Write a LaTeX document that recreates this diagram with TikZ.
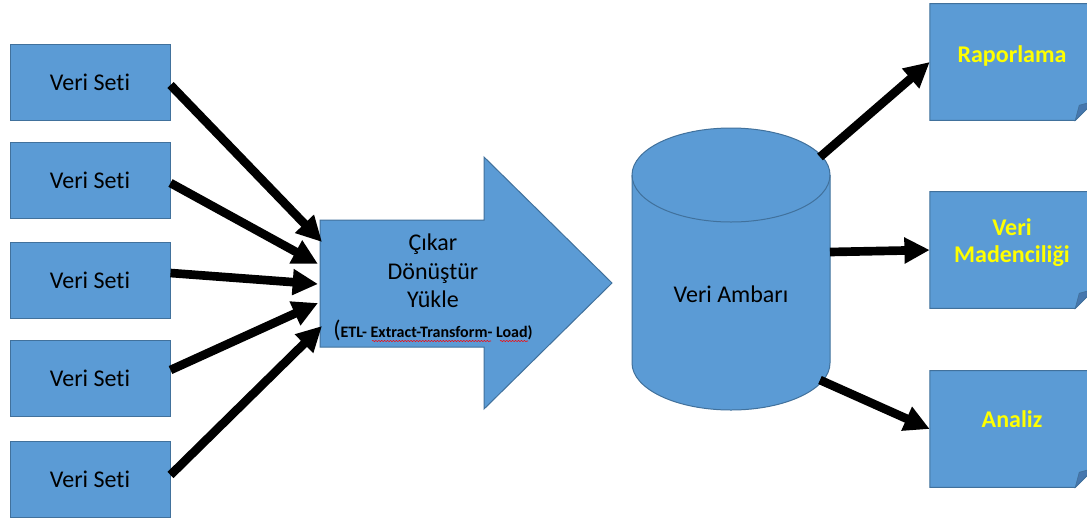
\documentclass[tikz,border=0pt]{standalone}
\usepackage{fontspec}
\setmainfont{Carlito}[Ligatures=NoCommon]
\usetikzlibrary{arrows.meta,calc,decorations.pathmorphing}
\definecolor{shapefill}{HTML}{5B9BD5}
\definecolor{shapeline}{HTML}{41719C}
\definecolor{foldshade}{HTML}{4677AE}
\definecolor{notetext}{HTML}{FFFF00}

\begin{document}
\begin{tikzpicture}[x={(0.75pt,0)}, y={(0,-0.75pt)},
  srcbox/.style={rectangle, fill=shapefill, draw=shapeline, line width=0.75pt,
    minimum width=120pt, minimum height=57pt, inner sep=0pt,
    font=\fontsize{18}{21}\selectfont},
  notebox/.style={rectangle, minimum width=123pt, minimum height=87pt, inner sep=0pt},
  notelabel/.style={anchor=base, text=notetext, font=\fontsize{18}{21}\selectfont\bfseries},
  plain/.style={anchor=base, font=\fontsize{18}{21}\selectfont},
  flow/.style={line width=6.5pt, -{Triangle[length=19pt,width=18.5pt]}},
  body/.style={fill=shapefill, draw=shapeline, line width=0.75pt, line join=miter},
  squiggle/.style={draw=red, line width=0.4pt, decorate,
    decoration={snake, amplitude=0.45pt, segment length=2.2pt}}
]
\useasboundingbox (0,0) rectangle (1087,522);
\fill[white] (0,0) rectangle (1087,522);
\clip (0,0) rectangle (1087,522);

% five source data sets
\foreach \i/\y in {1/82,2/180,3/280,4/378,5/479}
  \node[srcbox] (src\i) at (90,\y) {Veri Seti};

% ETL block arrow
\draw[body] (320,220) -- (484,220) -- (484,157) -- (612,283) -- (484,409)
  -- (484,347) -- (320,347) -- cycle;
\coordinate (in1) at (322,242);
\coordinate (in2) at (318,264);
\coordinate (in3) at (318,284);
\coordinate (in4) at (318,303);
\coordinate (in5) at (322,326);
\node[plain] (etl1) at (433,250) {Çıkar};
\node[plain] (etl2) at (433,279) {Dönüştür};
\node[plain] (etl3) at (433,307) {Yükle};
\node[anchor=base, inner sep=0pt] (etl4) at (433,337)
  {\fontsize{18}{21}\selectfont(\fontsize{12}{14}\selectfont\bfseries ETL- Extract-Transform- Load)};
\draw[squiggle] (372,341) -- (491,341);
\draw[squiggle] (500,341) -- (528,341);

% data warehouse cylinder
\draw[body] (632,175) -- (632,363)
  arc[start angle=180, end angle=360, x radius=74.25pt, y radius=35.25pt]
  -- (830,175)
  arc[start angle=0, end angle=180, x radius=74.25pt, y radius=35.25pt] -- cycle;
\draw[shapeline, line width=0.75pt] (632,175)
  arc[start angle=180, end angle=360, x radius=74.25pt, y radius=35.25pt];
\node[plain] (dw) at (731,302) {Veri Ambarı};
\coordinate (dw1) at (820,157);
\coordinate (dw2) at (830,252);
\coordinate (dw3) at (820,380);

% output notes with a folded corner
\foreach \i/\y in {1/62,2/250,3/429}{
  \node[notebox] (note\i) at (1012,\y) {};
  \draw[body] (note\i.north west) -- (note\i.north east)
    -- ($(note\i.south east)+(0,-19)$) -- ($(note\i.south east)+(-19,0)$)
    -- (note\i.south west) -- cycle;
  \filldraw[fill=foldshade, draw=shapeline, line width=0.5pt]
    ($(note\i.south east)+(-19,0)$)
    .. controls ($(note\i.south east)+(-17,-7)$) .. ($(note\i.south east)+(-15,-15)$)
    -- ($(note\i.south east)+(0,-19)$) -- cycle;
}
\node[notelabel] (lab1) at (1012,62) {Raporlama};
\node[notelabel] (lab2a) at (1012,235) {Veri};
\node[notelabel] (lab2b) at (1012,262) {Madenciliği};
\node[notelabel] (lab3) at (1012,427) {Analiz};

% connectors
\draw[flow] ($(src1.east)+(0,3)$) -- (in1);
\draw[flow] ($(src2.east)+(0,3)$) -- (in2);
\draw[flow] ($(src3.east)+(0,-7)$) -- (in3);
\draw[flow] ($(src4.east)+(0,-8)$) -- (in4);
\draw[flow] ($(src5.east)+(0,-4)$) -- (in5);
\draw[flow] (dw1) -- (note1.west);
\draw[flow] (dw2) -- (note2.west);
\draw[flow] (dw3) -- (note3.west);
\end{tikzpicture}
\end{document}
